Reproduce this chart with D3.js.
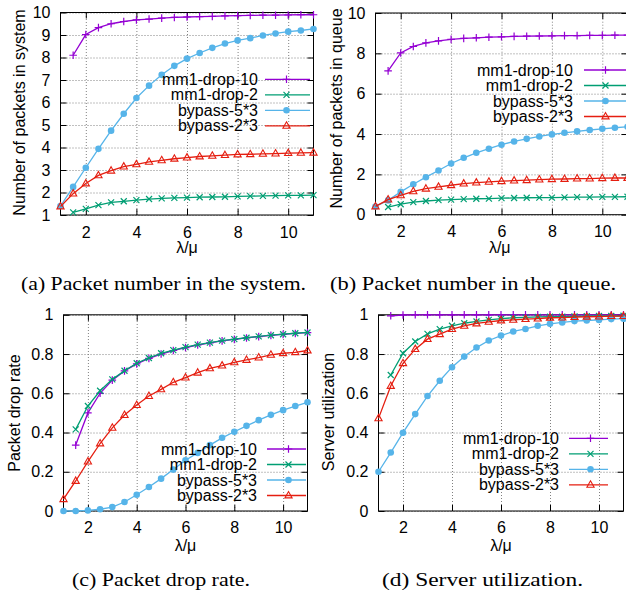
<!DOCTYPE html>
<html>
<head>
<meta charset="utf-8">
<script src="https://cdn.jsdelivr.net/npm/d3@7"></script>
<style>
  body { margin: 0; background: #fff; }
  svg { display: block; }
  .axis text { font-family: Arial, "Liberation Sans", sans-serif; font-size: 16px; fill: #000; }
  .axis line { stroke: #000; }
  .grid line { stroke: #808080; stroke-dasharray: 1,2; }
  .lbl { font-family: Arial, "Liberation Sans", sans-serif; font-size: 16px; fill: #000; }
  .cap { font-family: "Times New Roman", "Liberation Serif", serif; font-size: 19.5px; fill: #000; }
</style>
</head>
<body>
<svg id="fig" width="626" height="591"></svg>
<script>
// lambda/mu values (x axis)
var lambdaMu = [1, 1.5, 2, 2.5, 3, 3.5, 4, 4.5, 5, 5.5, 6, 6.5, 7, 7.5, 8, 8.5, 9, 9.5, 10, 10.5, 11];
var seriesNames = ["mm1-drop-10", "mm1-drop-2", "bypass-5*3", "bypass-2*3"];
var xTicks = [2, 4, 6, 8, 10];

// (a) number of packets in system
var sysDrop10 = [null, 8.1, 9.02, 9.33, 9.5, 9.6, 9.67, 9.71, 9.75, 9.78, 9.8, 9.82, 9.83, 9.85, 9.86, 9.87, 9.88, 9.88, 9.89, 9.9, 9.9];
var sysDrop2 = [null, 1.12, 1.27, 1.44, 1.56, 1.61, 1.66, 1.71, 1.74, 1.76, 1.77, 1.79, 1.8, 1.81, 1.83, 1.84, 1.85, 1.86, 1.87, 1.87, 1.88];
var sysBypass5 = [1.4, 2.25, 3.1, 3.94, 4.75, 5.5, 6.2, 6.75, 7.23, 7.63, 7.95, 8.2, 8.43, 8.62, 8.76, 8.86, 8.98, 9.07, 9.15, 9.2, 9.27];
var sysBypass2 = [1.38, 1.95, 2.4, 2.76, 2.97, 3.15, 3.25, 3.36, 3.43, 3.5, 3.55, 3.6, 3.63, 3.66, 3.69, 3.7, 3.72, 3.73, 3.75, 3.76, 3.77];

// (b) number of packets in queue
var qDrop10 = [null, 7.13, 8.02, 8.34, 8.52, 8.62, 8.69, 8.74, 8.77, 8.8, 8.82, 8.84, 8.85, 8.86, 8.87, 8.88, 8.88, 8.89, 8.89, 8.9, 8.9];
var qDrop2 = [null, 0.38, 0.52, 0.62, 0.68, 0.72, 0.75, 0.77, 0.79, 0.8, 0.82, 0.83, 0.84, 0.85, 0.85, 0.86, 0.87, 0.87, 0.88, 0.88, 0.89];
var qBypass5 = [0.41, 0.71, 1.13, 1.51, 1.86, 2.19, 2.54, 2.82, 3.07, 3.27, 3.47, 3.63, 3.76, 3.88, 3.98, 4.06, 4.13, 4.2, 4.26, 4.31, 4.36];
var qBypass2 = [0.41, 0.75, 0.96, 1.16, 1.29, 1.38, 1.46, 1.54, 1.59, 1.63, 1.66, 1.69, 1.71, 1.74, 1.76, 1.77, 1.79, 1.79, 1.81, 1.82, 1.82];

// (c) packet drop rate
var dDrop10 = [null, 0.336, 0.5, 0.6, 0.667, 0.714, 0.75, 0.778, 0.8, 0.818, 0.833, 0.846, 0.857, 0.867, 0.875, 0.882, 0.889, 0.895, 0.9, 0.905, 0.909];
var dDrop2 = [null, 0.416, 0.535, 0.613, 0.671, 0.715, 0.753, 0.78, 0.804, 0.82, 0.835, 0.848, 0.858, 0.868, 0.876, 0.883, 0.89, 0.896, 0.901, 0.906, 0.91];
var dBypass5 = [0, 0, 0.003, 0.009, 0.02, 0.046, 0.083, 0.122, 0.165, 0.211, 0.259, 0.296, 0.336, 0.373, 0.404, 0.434, 0.463, 0.49, 0.514, 0.535, 0.554];
var dBypass2 = [0.06, 0.153, 0.252, 0.344, 0.424, 0.489, 0.54, 0.586, 0.62, 0.656, 0.68, 0.705, 0.727, 0.741, 0.758, 0.77, 0.782, 0.796, 0.804, 0.809, 0.818];

// (d) server utilization
var uDrop10 = [null, 0.995, 0.999, 1, 1, 1, 1, 1, 1, 1, 1, 1, 1, 1, 1, 1, 1, 1, 1, 1, 1];
var uDrop2 = [null, 0.693, 0.804, 0.864, 0.903, 0.927, 0.944, 0.957, 0.966, 0.974, 0.98, 0.985, 0.987, 0.989, 0.99, 0.991, 0.992, 0.993, 0.994, 0.994, 0.995];
var uBypass5 = [0.2, 0.298, 0.399, 0.494, 0.586, 0.664, 0.733, 0.787, 0.833, 0.869, 0.894, 0.915, 0.928, 0.944, 0.954, 0.961, 0.968, 0.971, 0.974, 0.978, 0.98];
var uBypass2 = [0.472, 0.637, 0.753, 0.825, 0.876, 0.901, 0.927, 0.944, 0.956, 0.964, 0.971, 0.974, 0.978, 0.981, 0.985, 0.986, 0.988, 0.99, 0.991, 0.993, 0.993];

var colors = ["#9400d3", "#009e73", "#56b4e9", "#e51e10"];
var markers = ["plus", "cross", "circle", "triangle"];

var svg = d3.select("#fig");

// one entry per subplot: data + where it sits on the page
var panels = [
  { series: [sysDrop10, sysDrop2, sysBypass5, sysBypass2], yDomain: [1, 10], yTicks: d3.range(1, 11), fmt: d3.format("d"),
    x0: 60.5, x1: 313.5, y0: 12.5, y1: 215, ylabel: "Number of packets in system", ylx: 25, yly: 112.5,
    legX: 258, legL: 265, legR: 310, legY: 79.3, xlabY: 253, tickBase: 237.5,
    caption: "(a)  Packet number in the system.", capX: 21, capW: 285, capY: 290 },
  { series: [qDrop10, qDrop2, qBypass5, qBypass2], yDomain: [0, 10], yTicks: [0, 2, 4, 6, 8, 10], fmt: d3.format("d"),
    x0: 375.5, x1: 627.5, y0: 13, y1: 214.7, ylabel: "Number of packets in queue", ylx: 341.5, yly: 108.5,
    legX: 573, legL: 584, legR: 640, legY: 70, xlabY: 253, tickBase: 237.5,
    caption: "(b)  Packet number in the queue.", capX: 330, capW: 286, capY: 290 },
  { series: [dDrop10, dDrop2, dBypass5, dBypass2], yDomain: [0, 1], yTicks: [0, 0.2, 0.4, 0.6, 0.8, 1], fmt: function(d) { return d === 0 || d === 1 ? d : d.toFixed(1); },
    x0: 63.5, x1: 307.5, y0: 314.8, y1: 511, ylabel: "Packet drop rate", ylx: 19.5, yly: 413,
    legX: 257, legL: 267, legR: 306, legY: 449, xlabY: 550.5, tickBase: 533,
    caption: "(c)  Packet drop rate.", capX: 72, capW: 178, capY: 586 },
  { series: [uDrop10, uDrop2, uBypass5, uBypass2], yDomain: [0, 1], yTicks: [0, 0.2, 0.4, 0.6, 0.8, 1], fmt: function(d) { return d === 0 || d === 1 ? d : d.toFixed(1); },
    x0: 378.5, x1: 623.5, y0: 314.8, y1: 511, ylabel: "Server utilization", ylx: 334, yly: 412,
    legX: 559, legL: 569, legR: 608, legY: 438.3, xlabY: 550.5, tickBase: 533,
    caption: "(d)  Server utilization.", capX: 382, capW: 201, capY: 586 }
];

function drawMarker(g, type, color) {
  if (type === "plus") {
    g.append("path").attr("d", "M-3.8,0H3.8M0,-3.8V3.8").attr("stroke", color).attr("stroke-width", 1.2);
  } else if (type === "cross") {
    g.append("path").attr("d", "M-3,-3L3,3M-3,3L3,-3").attr("stroke", color).attr("stroke-width", 1.2);
  } else if (type === "circle") {
    g.append("circle").attr("r", 3.3).attr("fill", color);
  } else {
    g.append("path").attr("d", "M0,-4L3.6,2.4H-3.6Z").attr("fill", "none").attr("stroke", color).attr("stroke-width", 1.1);
  }
}

panels.forEach(function(p) {
  var x = d3.scaleLinear().domain([1, 11]).range([p.x0, p.x1]);
  var y = d3.scaleLinear().domain(p.yDomain).range([p.y1, p.y0]);
  var g = svg.append("g");

  // dotted grid
  g.append("g").attr("class", "grid").attr("transform", "translate(0," + p.y1 + ")")
    .call(d3.axisBottom(x).tickValues(xTicks).tickSize(-(p.y1 - p.y0)).tickFormat(""))
    .call(function(s) { s.select(".domain").remove(); });
  g.append("g").attr("class", "grid").attr("transform", "translate(" + p.x0 + ",0)")
    .call(d3.axisLeft(y).tickValues(p.yTicks).tickSize(-(p.x1 - p.x0)).tickFormat(""))
    .call(function(s) { s.select(".domain").remove(); });

  // axes, ticks pointing inward, mirrored on top/right
  g.append("g").attr("class", "axis").attr("transform", "translate(0," + p.y1 + ")")
    .call(d3.axisBottom(x).tickValues(xTicks).tickSize(-6).tickPadding(p.tickBase - p.y1 - 0.71 * 16).tickFormat(d3.format("d")))
    .call(function(s) { s.select(".domain").remove(); });
  g.append("g").attr("class", "axis").attr("transform", "translate(0," + p.y0 + ")")
    .call(d3.axisTop(x).tickValues(xTicks).tickSize(-6).tickFormat(""))
    .call(function(s) { s.select(".domain").remove(); });
  g.append("g").attr("class", "axis").attr("transform", "translate(" + p.x0 + ",0)")
    .call(d3.axisLeft(y).tickValues(p.yTicks).tickSize(-6).tickPadding(10).tickFormat(p.fmt))
    .call(function(s) { s.select(".domain").remove(); });
  g.append("g").attr("class", "axis").attr("transform", "translate(" + p.x1 + ",0)")
    .call(d3.axisRight(y).tickValues(p.yTicks).tickSize(-6).tickFormat(""))
    .call(function(s) { s.select(".domain").remove(); });

  g.append("rect").attr("x", p.x0).attr("y", p.y0).attr("width", p.x1 - p.x0).attr("height", p.y1 - p.y0)
    .attr("fill", "none").attr("stroke", "#000").attr("stroke-width", 1);

  // curves
  var line = d3.line()
    .defined(function(d) { return d[1] !== null; })
    .x(function(d) { return x(d[0]); })
    .y(function(d) { return y(d[1]); });

  p.series.forEach(function(vals, k) {
    var pts = lambdaMu.map(function(v, i) { return [v, vals[i]]; });
    g.append("path").datum(pts).attr("d", line)
      .attr("fill", "none").attr("stroke", colors[k]).attr("stroke-width", 1.3);
    g.selectAll(null).data(pts.filter(function(d) { return d[1] !== null; }))
      .enter().append("g")
      .attr("transform", function(d) { return "translate(" + x(d[0]) + "," + y(d[1]) + ")"; })
      .each(function() { drawMarker(d3.select(this), markers[k], colors[k]); });
  });

  // key
  seriesNames.forEach(function(name, k) {
    var ly = p.legY + k * 15.5;
    g.append("text").attr("class", "lbl").attr("x", p.legX).attr("y", ly).attr("dy", "0.35em")
      .attr("text-anchor", "end").text(name);
    g.append("line").attr("x1", p.legL).attr("x2", p.legR).attr("y1", ly).attr("y2", ly)
      .attr("stroke", colors[k]).attr("stroke-width", 1.3);
    var m = g.append("g").attr("transform", "translate(" + (p.legL + 21.5) + "," + ly + ")");
    drawMarker(m, markers[k], colors[k]);
  });

  // axis labels
  g.append("text").attr("class", "lbl").attr("text-anchor", "middle")
    .attr("transform", "translate(" + p.ylx + "," + p.yly + ") rotate(-90)")
    .text(p.ylabel);
  g.append("text").attr("class", "lbl").attr("text-anchor", "middle")
    .attr("x", (p.x0 + Math.min(p.x1, 626)) / 2 + (p.x1 > 626 ? -1 : 0)).attr("y", p.xlabY)
    .text("λ/μ");

  // sub-caption
  g.append("text").attr("class", "cap").attr("x", p.capX).attr("y", p.capY)
    .attr("textLength", p.capW).attr("lengthAdjust", "spacingAndGlyphs")
    .text(p.caption);
});
</script>
</body>
</html>
